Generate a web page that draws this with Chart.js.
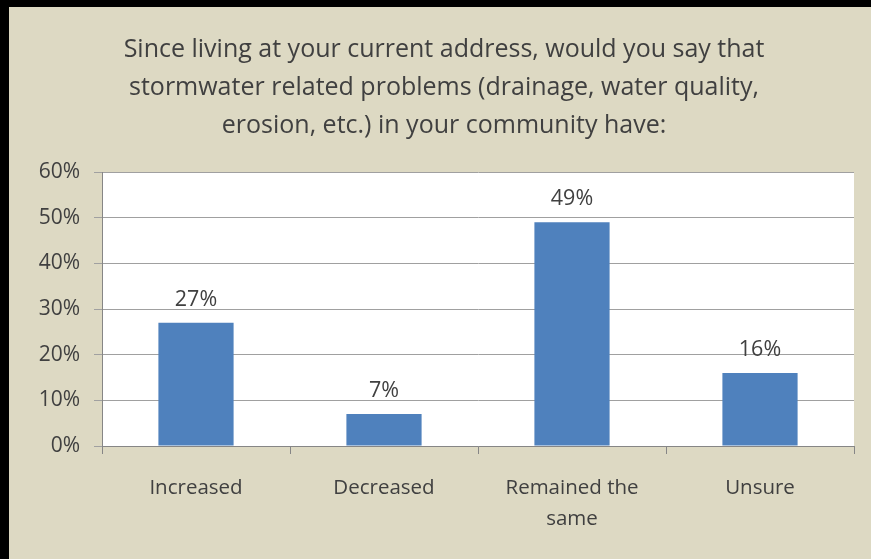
<!DOCTYPE html>
<html>
<head>
<meta charset="utf-8">
<script src="https://cdn.jsdelivr.net/npm/chart.js@4"></script>
<style>
  html, body { margin: 0; padding: 0; background: #ddd9c3; }
  #wrap { position: relative; width: 871px; height: 559px; }
</style>
</head>
<body>
<div id="wrap"><canvas id="chart"></canvas></div>
<script>
const titleLines = [
  'Since living at your current address, would you say that',
  'stormwater related problems (drainage, water quality,',
  'erosion, etc.) in your community have:'
];
const categories = ['Increased', 'Decreased', ['Remained the', 'same'], 'Unsure'];
const percents = [27, 7, 49, 16];
const yTicks = [0, 10, 20, 30, 40, 50, 60];

const textColor = '#404040';
const fontFamily = '"Open Sans", "Noto Sans", sans-serif';

// beige frame with the dark edge on the left and top, white plot area
const framePlugin = {
  id: 'frame',
  beforeDraw(chart) {
    const { ctx, width, height, chartArea } = chart;
    ctx.save();
    ctx.fillStyle = '#ddd9c3';
    ctx.fillRect(0, 0, width, height);
    ctx.fillStyle = '#000';
    ctx.fillRect(0, 0, width, 7);
    ctx.fillRect(0, 0, 9, height);
    ctx.fillStyle = '#fff';
    ctx.fillRect(chartArea.left, chartArea.top, chartArea.right - chartArea.left, chartArea.bottom - chartArea.top);
    ctx.restore();
  }
};

// percent labels above each bar
const valueLabels = {
  id: 'valueLabels',
  afterDatasetsDraw(chart) {
    const { ctx } = chart;
    const meta = chart.getDatasetMeta(0);
    ctx.save();
    ctx.fillStyle = textColor;
    ctx.font = '21.5px ' + fontFamily;
    ctx.textAlign = 'center';
    ctx.textBaseline = 'alphabetic';
    meta.data.forEach((bar, i) => {
      ctx.fillText(percents[i] + '%', bar.x, bar.y - 17);
    });
    ctx.restore();
  }
};

new Chart(document.getElementById('chart'), {
  type: 'bar',
  data: {
    labels: categories,
    datasets: [{
      data: percents,
      backgroundColor: '#4f81bd',
      categoryPercentage: 1,
      barPercentage: 0.4
    }]
  },
  options: {
    responsive: true,
    maintainAspectRatio: false,
    animation: false,
    devicePixelRatio: 1,
    layout: { padding: { left: 34, right: 17, top: 0, bottom: 0 } },
    plugins: {
      legend: { display: false },
      tooltip: { enabled: false },
      title: {
        display: true,
        text: titleLines,
        color: textColor,
        font: { family: fontFamily, size: 25, weight: 'normal', lineHeight: '38px' },
        padding: { top: 31, bottom: 27 }
      }
    },
    scales: {
      x: {
        afterFit(scale) { scale.height = 113; },
        grid: { drawOnChartArea: false, tickLength: 8, color: '#868686' },
        border: { color: '#868686' },
        ticks: {
          color: textColor,
          padding: 19,
          maxRotation: 0,
          font: { family: fontFamily, size: 20.5, lineHeight: '31px' }
        }
      },
      y: {
        min: 0,
        max: 60,
        afterFit(scale) { scale.width = 68; },
        afterBuildTicks(scale) { scale.ticks = yTicks.map(v => ({ value: v })); },
        grid: { color: '#a0a0a0', tickLength: 8 },
        border: { color: '#868686' },
        ticks: {
          color: textColor,
          padding: 14,
          font: { family: fontFamily, size: 21 },
          callback: v => v + '%'
        }
      }
    }
  },
  plugins: [framePlugin, valueLabels]
});
</script>
</body>
</html>
